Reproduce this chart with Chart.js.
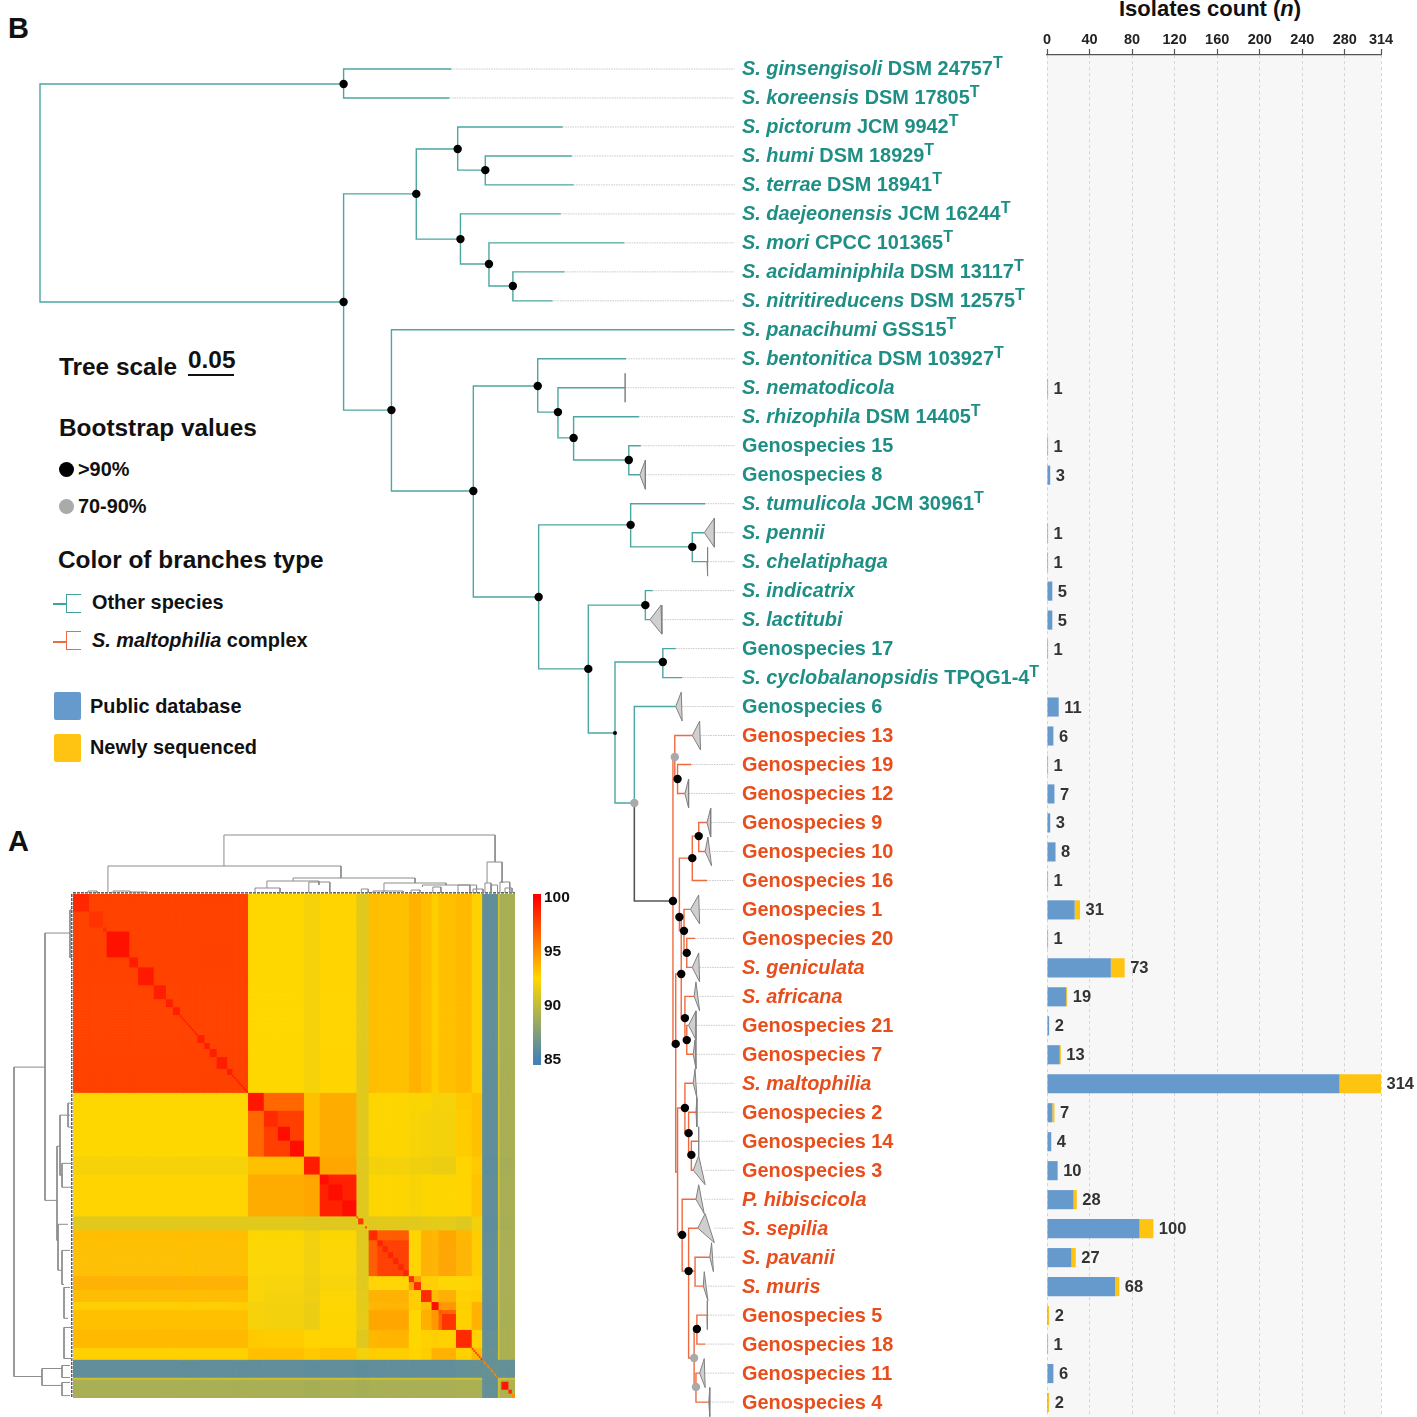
<!DOCTYPE html>
<html>
<head>
<meta charset="utf-8">
<title>Isolates tree and ANI heatmap</title>
<script src="https://cdn.jsdelivr.net/npm/chart.js@4"></script>
<style>
  html, body { margin: 0; padding: 0; background: #fff; }
  body { position: relative; width: 1417px; height: 1417px; overflow: hidden; font-family: "Liberation Sans", Arial, sans-serif; font-weight: bold; color: #111; }
  canvas { position: absolute; display: block; }
  .txt { position: absolute; white-space: nowrap; }
  .h1 { font-size: 24.4px; }
  .h2 { font-size: 19.9px; }
  .dot { position: absolute; width: 15px; height: 15px; border-radius: 50%; left: 59px; }
  .swatch { position: absolute; left: 54px; width: 27px; height: 28px; border-radius: 2px; }
  .stem { position: absolute; left: 53px; width: 13px; height: 1.5px; }
  .fork { position: absolute; left: 66px; width: 14px; height: 17px; border: 1.5px solid; border-right: 0; }
</style>
</head>
<body>

<div class="txt" style="left:8px;top:12px;font-size:29px">B</div>
<div class="txt" style="left:8px;top:825px;font-size:29px">A</div>
<div class="txt" style="left:1119px;top:-4px;font-size:22px">Isolates count (<i>n</i>)</div>

<div class="txt h1" style="left:59px;top:353px">Tree scale</div>
<div class="txt h1" style="left:188px;top:346px">0.05</div>
<div style="position:absolute;left:188px;top:374px;width:46px;height:1.5px;background:#111"></div>
<div class="txt h1" style="left:59px;top:414px">Bootstrap values</div>
<div class="dot" style="top:462px;background:#000"></div>
<div class="txt h2" style="left:78px;top:458px">&gt;90%</div>
<div class="dot" style="top:499px;background:#aaa"></div>
<div class="txt h2" style="left:78px;top:495px">70-90%</div>
<div class="txt h1" style="left:58px;top:546px">Color of branches type</div>
<div class="stem" style="top:603px;background:#3fa29c"></div>
<div class="fork" style="top:594px;border-color:#3fa29c"></div>
<div class="txt h2" style="left:92px;top:591px">Other species</div>
<div class="stem" style="top:641px;background:#ef6a3f"></div>
<div class="fork" style="top:631px;border-color:#ef6a3f"></div>
<div class="txt h2" style="left:92px;top:629px"><i>S. maltophilia</i> complex</div>
<div class="swatch" style="top:692px;background:#6699cc"></div>
<div class="txt h2" style="left:90px;top:695px">Public database</div>
<div class="swatch" style="top:734px;background:#ffc312"></div>
<div class="txt h2" style="left:90px;top:736px">Newly sequenced</div>

<canvas id="treeChart" width="1040" height="1362" style="left:0;top:55px"></canvas>
<canvas id="barChart" width="387" height="1417" style="left:1030px;top:0"></canvas>
<canvas id="heatChart" width="442" height="504" style="left:73px;top:894px"></canvas>
<canvas id="topDendro" width="442" height="64" style="left:73px;top:830px"></canvas>
<canvas id="leftDendro" width="61" height="504" style="left:12px;top:894px"></canvas>
<canvas id="colorBar" width="60" height="190" style="left:525px;top:885px"></canvas>

<script>
// --- DATA: species and isolate counts ---
// *..* = italic, ^ = superscript
const speciesLabels = [
  "*S. ginsengisoli* DSM 24757^T", "*S. koreensis* DSM 17805^T", "*S. pictorum* JCM 9942^T", "*S. humi* DSM 18929^T",
  "*S. terrae* DSM 18941^T", "*S. daejeonensis* JCM 16244^T", "*S. mori* CPCC 101365^T", "*S. acidaminiphila* DSM 13117^T",
  "*S. nitritireducens* DSM 12575^T", "*S. panacihumi* GSS15^T", "*S. bentonitica* DSM 103927^T", "*S. nematodicola*",
  "*S. rhizophila* DSM 14405^T", "Genospecies 15", "Genospecies 8", "*S. tumulicola* JCM 30961^T",
  "*S. pennii*", "*S. chelatiphaga*", "*S. indicatrix*", "*S. lactitubi*",
  "Genospecies 17", "*S. cyclobalanopsidis* TPQG1-4^T", "Genospecies 6", "Genospecies 13",
  "Genospecies 19", "Genospecies 12", "Genospecies 9", "Genospecies 10",
  "Genospecies 16", "Genospecies 1", "Genospecies 20", "*S. geniculata*",
  "*S. africana*", "Genospecies 21", "Genospecies 7", "*S. maltophilia*",
  "Genospecies 2", "Genospecies 14", "Genospecies 3", "*P. hibiscicola*",
  "*S. sepilia*", "*S. pavanii*", "*S. muris*", "Genospecies 5",
  "Genospecies 18", "Genospecies 11", "Genospecies 4"
];
const publicCounts = [0,0,0,0,0,0,0,0,0,0,0,1,0,1,3,0,1,1,5,5,1,0,11,6,1,7,3,8,1,26,1,60,18,2,12,275,5,4,10,25,87,23,64,1,1,6,1];
const newCounts    = [0,0,0,0,0,0,0,0,0,0,0,0,0,0,0,0,0,0,0,0,0,0,0,0,0,0,0,0,0,5,0,13,1,0,1,39,2,0,0,3,13,4,4,1,0,0,1];
const countTicks = [0,40,80,120,160,200,240,280,314];

// --- DATA: phylogeny (depth = substitutions/site from root, row = label row) ---
const tipDepth = [.447,.445,.568,.578,.580,.566,.635,.570,.557,.755,.637,.636,.651,.653,.652,.723,.722,.725,.666,.663,.691,.698,.691,.709,.708,.701,.725,.723,.725,.707,.712,.709,.711,.705,.710,.710,.713,.716,.710,.713,.715,.728,.721,.725,.723,.717,.727];
const tipParent = ["A","A","E","G","G","F","H","I","I","D","K","M","N","O","O","P","R2","R2","S","S","U","U","V","X","X2","X2","AD","AD","AA","AC","AE","AE","AY","AZ","AZ","AV","AW","AX","AX","AM","AN","AP","AP","AS","AS","AT","AT"];
const tipClade = ["t","t","t","t","t","t","t","t","t","t","t","t","t","t","t","t","t","t","t","t","t","t","t","o","o","o","o","o","o","o","o","o","o","o","o","o","o","o","o","o","o","o","o","o","o","o","o"];
// collapsed clade triangles: depth of upper and lower corner, null = single genome
const fanUpper = [null,null,null,null,null,null,null,null,null,null,null,.636,null,null,.658,null,.733,.726,null,.675,null,null,.697,.717,null,.705,.729,.726,null,.716,null,.716,.713,.713,.712,.712,.714,.716,.716,.716,.723,.730,.722,.725,null,.722,.728];
const fanLower = [null,null,null,null,null,null,null,null,null,null,null,.636,null,null,.658,null,.733,.726,null,.676,null,null,.698,.718,null,.705,.729,.730,null,.717,null,.717,.717,.713,.713,.714,.714,.716,.723,.722,.733,.732,.726,.726,null,.723,.728];

const nodeIds     = ["Root","A","B","C","D","E","F","G","H","I","J","K","L","M","N","O","P","Q","R2","S","T","U","V","W","X","X2","Y","AF","AB","AA","AD","AC","AE","AY","AZ","BB","AV","AW","AX","AM","AN","AP","AQ","AS","AT"];
const nodeParent  = [null,"Root","Root","B","B","C","C","E","F","H","D","J","J","K","M","N","L","L","P","Q","Q","T","T","V","W","X","W","Y","AF","AB","AA","AB","AC","AF","AY","Y","BB","AV","AW","BB","AM","AN","AN","AQ","AQ"];
const nodeDepth   = [0,.330,.330,.409,.382,.454,.457,.484,.488,.514,.471,.541,.542,.563,.580,.640,.642,.596,.709,.658,.625,.677,.646,.688,.690,.693,.691,.697,.695,.709,.716,.700,.703,.701,.703,.693,.701,.705,.708,.698,.705,.712,.711,.714,.713];
const nodeRow     = [4.28,.518,8.04,4.31,11.77,2.76,5.87,3.49,6.73,7.49,14.56,10.94,18.22,11.84,12.73,13.49,15.73,20.70,16.49,18.50,22.91,20.46,25.33,28.71,23.74,24.50,33.64,31.23,29.26,27.23,26.47,29.74,30.50,32.75,33.51,38.06,35.85,36.72,37.47,40.23,41.48,41.48,44.48,43.48,45.48];
const nodeClade   = ["t","t","t","t","t","t","t","t","t","t","t","t","t","t","t","t","t","t","t","t","t","t","t","k","o","o","o","o","o","o","o","o","o","o","o","o","o","o","o","o","o","o","o","o","o"];
// bootstrap class: 0 none, 1 >90%, 2 70-90%, 3 >90% (tiny)
const nodeSupport = [0,1,1,1,1,1,1,1,1,1,1,1,1,1,1,1,1,1,1,1,3,1,2,1,2,1,1,1,1,1,1,1,1,1,1,0,1,1,1,1,1,0,2,1,2];

// --- DATA: ANI heatmap (%), groups in clustering order ---
const heatGroupAni = [
  [97.7],
  [92.5,96.5],
  [92.5,96.4,97.8],
  [92.1,93.3,93.3,99.0],
  [92.6,94.0,94.0,94.2,98.8],
  [91.3,91.3,91.3,91.2,91.2,91.3],
  [93.4,92.4,92.4,92.0,92.4,91.2,98.0],
  [93.3,92.4,92.4,92.0,92.4,91.3,96.8,97.8],
  [93.8,92.3,92.2,91.9,92.2,91.3,92.6,92.6,94.5],
  [93.4,92.3,92.1,91.9,92.4,91.4,93.8,93.8,92.8,98.5],
  [92.8,92.1,92.0,91.7,92.4,91.4,93.6,93.7,92.8,93.4,99.0],
  [93.3,92.1,92.0,91.7,92.4,91.5,94.2,94.2,92.5,93.9,94.7,96.5],
  [93.5,93.0,92.9,92.6,92.6,91.2,93.6,93.7,92.5,92.7,92.8,92.7,98.2],
  [92.7,93.3,93.3,93.0,93.2,92.0,92.9,92.8,92.6,92.8,93.8,93.8,92.7,93.5],
  [86.1,86.1,86.1,86.0,86.1,86.0,86.1,86.1,86.1,86.1,86.1,86.1,86.2,86.3,86.3],
  [90.6,90.6,90.6,90.5,90.6,90.4,90.6,90.6,90.6,90.6,90.6,90.6,90.6,90.6,86.3,91.0],
  [89.0,89.0,89.0,88.9,89.0,88.9,89.0,89.0,89.0,89.0,89.0,89.0,89.1,89.1,86.2,90.5,89.2]
];
const heatSubSizes = [
  [9,8,2,13,5,9,7,4,4,1,1,1,1,1,1,1,1,1,1,4,3,4,6,3,1,1,1,1,1,1,1,1,1],
  [9],[8,7,8],[9],[5,8,8],[1,3,1,1,1],[5],[3,3,3,3,3,3],[3,4],[6],[4],[2,8],[9],
  [1,1,1,1,1,1],[1,1,1,1,1,1,1,1,1],[1],[1,4,2,2]
];
const heatSubAni = [
  [98.6,98.2,98.5,99.4,99,99.1,99,99,99,99,99,99,99,99,99,99,99,99,99,99,99,99,99,99,99,99,99,99,99,99,99,99,99],
  [99.2],[98.5,99.5,99.5],[99],[99.5,99.5,99.5],[97,98,92,98,92],[98.5],[98.8,98.8,98.8,98.8,98.8,98.8],[98.5,98.5],[98.5],[99.5],[97,98.2],[98.5],
  [98,98,98,98,98,98],[96,95,96,95,96,95,96,95,96],[91],[90,99.2,98.5,95]
];

// --- DATA: dendrograms, merges as [posA, posB, baseA, baseB, top] ---
const topMerges = [
  [86.4,241.6,7,8,14.75],[20,153.4,.5,4,7],[237,245.6,2.75,2.75,8],[126,195.8,3.25,2.75,4],
  [111,140.8,1.5,2.25,3.25],[135,147,.25,.25,3],[104.2,118.5,.25,.25,1.5],[178,213.5,.5,2.25,2.75],
  [200,227.2,1.75,.5,2.25],[220.4,231,.25,.25,2.25],[165,169,.25,.25,1.25],[171.7,189,.25,.25,.75],
  [193.5,198.6,.25,.25,1],[206,210.6,.25,.25,1.75],[229,234.7,.25,.25,1.25],[235.8,239.3,.25,.25,2.75],
  [239.3,243,.25,.25,2.25],[244.4,250,.25,.25,3],[247.3,251.3,.25,.25,1.5],[8.6,13.7,.25,.25,.75],
  [22.9,32.6,.25,.25,.75],[32.6,42.4,.25,.25,.5]
];
const leftMerges = [
  [86.9,242.2,7,7.75,14.75],[19.6,153.8,.75,4,7],[126.6,173.9,3.25,3.75,4],[111,141.2,.75,2.75,3.25],
  [135.2,147.2,.25,.25,2.75],[165.8,188.9,1.25,2.75,3.75],[178.9,196,.75,2.25,2.75],[197.5,213,.75,1.25,2.25],
  [217.6,233.2,.25,.25,2.25],[238.2,246.7,2.75,2.75,7.75],[236.7,242.7,.75,.75,2.75],[245.2,251.8,.75,.75,2.75],
  [105,117,.25,.25,1.25],[8,32,.25,.25,.75]
];
const aniTicks = [85,90,95,100];

// --- STYLE ---
const FONT = '"Liberation Sans", Arial, sans-serif';
const TEAL = '#4aa7a1', ORANGE = '#ef6a3f', DARK = '#555555';
const LABEL_TEAL = '#1f8f86', LABEL_ORANGE = '#e84e1b';
const BLUE = '#6699cc', YELLOW = '#ffc312';
const LEADER_END = .755, LABEL_DEPTH = .763;
const BREAK = { x: NaN, y: NaN };

Chart.defaults.font.family = FONT;
Chart.defaults.animation = false;
Chart.defaults.events = [];
Chart.defaults.responsive = false;
Chart.defaults.devicePixelRatio = 1;
Chart.defaults.layout.autoPadding = false;
Chart.defaults.plugins.legend.display = false;
Chart.defaults.plugins.tooltip.enabled = false;

// --- 1. TREE ---
const nodeIndex = id => nodeIds.indexOf(id);
function elbow(parentId, depth, row) {
  const p = nodeIndex(parentId);
  return [{ x: nodeDepth[p], y: nodeRow[p] }, { x: nodeDepth[p], y: row }, { x: depth, y: row }, BREAK];
}
function branchesOf(clade) {
  let pts = [];
  nodeIds.forEach((id, i) => {
    if (nodeParent[i] && nodeClade[i] === clade) pts = pts.concat(elbow(nodeParent[i], nodeDepth[i], nodeRow[i]));
  });
  tipDepth.forEach((d, i) => {
    if (tipClade[i] === clade) pts = pts.concat(elbow(tipParent[i], d, i));
  });
  return pts;
}
const lineSet = (data, color, width) => ({
  data, showLine: true, borderColor: color, borderWidth: width, pointRadius: 0, tension: 0, clip: false, spanGaps: false
});

const leaderPts = [];
tipDepth.forEach((d, i) => {
  const start = fanUpper[i] === null ? d : Math.max(fanUpper[i], fanLower[i]);
  leaderPts.push({ x: start, y: i }, { x: LEADER_END, y: i }, BREAK);
});
const leaderSet = lineSet(leaderPts, '#c8c8c8', 1);
leaderSet.borderDash = [1.5, 1];

const fanSets = [];
tipDepth.forEach((d, i) => {
  if (fanUpper[i] === null) return;
  const s = lineSet([{ x: d, y: i }, { x: fanUpper[i], y: i - .5 }, { x: fanLower[i], y: i + .5 }, { x: d, y: i }], '#808080', 1);
  s.fill = 'shape';
  s.backgroundColor = '#cfcfcf';
  fanSets.push(s);
});

const supportDots = [];
nodeIds.forEach((id, i) => {
  if (nodeSupport[i]) supportDots.push({ x: nodeDepth[i], y: nodeRow[i], c: nodeSupport[i] });
});

function drawRich(ctx, text, x, y, size) {
  const runs = text.split('*').filter(s => s.length);
  let italicNext = text.startsWith('*');
  let cx = x;
  runs.forEach(run => {
    const parts = run.split('^');
    ctx.font = (italicNext ? 'italic ' : '') + 'bold ' + size + 'px ' + FONT;
    ctx.fillText(parts[0], cx, y);
    cx += ctx.measureText(parts[0]).width;
    if (parts[1]) {
      ctx.font = 'bold 16px ' + FONT;
      ctx.fillText(parts[1], cx, y - 6);
      cx += ctx.measureText(parts[1]).width;
    }
    italicNext = !italicNext;
  });
}
const speciesLabelPlugin = {
  id: 'speciesLabels',
  afterDatasetsDraw(chart) {
    const { ctx, scales: { x, y } } = chart;
    ctx.save();
    ctx.textBaseline = 'middle';
    ctx.textAlign = 'left';
    speciesLabels.forEach((lab, i) => {
      ctx.fillStyle = tipClade[i] === 't' ? LABEL_TEAL : LABEL_ORANGE;
      drawRich(ctx, lab, x.getPixelForValue(LABEL_DEPTH), y.getPixelForValue(i) + 1, 19.9);
    });
    ctx.restore();
  }
};

new Chart(document.getElementById('treeChart'), {
  type: 'scatter',
  data: {
    // first dataset is painted last
    datasets: [
      {
        data: supportDots, clip: false, showLine: false, borderWidth: 0,
        pointRadius: c => c.raw && c.raw.c === 3 ? 2 : 4.2,
        backgroundColor: c => c.raw && c.raw.c === 2 ? '#aaaaaa' : '#000000'
      },
      ...fanSets,
      lineSet(branchesOf('k'), DARK, 1.6),
      lineSet(branchesOf('o'), ORANGE, 1.4),
      lineSet(branchesOf('t'), TEAL, 1.4),
      leaderSet
    ]
  },
  options: {
    layout: { padding: 0 },
    scales: {
      x: { type: 'linear', min: -40 / 920, max: 1000 / 920, display: false },
      y: { type: 'linear', min: -14 / 28.98, max: 1348 / 28.98, reverse: true, display: false }
    }
  },
  plugins: [speciesLabelPlugin]
});

// --- 2. ISOLATE COUNT BARS ---
const panelPlugin = {
  id: 'panel',
  beforeDraw(chart) {
    const { ctx, chartArea: a } = chart;
    ctx.save();
    ctx.fillStyle = '#f7f7f7';
    ctx.fillRect(a.left, a.top, a.right - a.left, a.bottom - a.top);
    ctx.restore();
  }
};
const totalLabelPlugin = {
  id: 'totalLabels',
  afterDatasetsDraw(chart) {
    const { ctx, scales: { x, y } } = chart;
    ctx.save();
    ctx.font = 'bold 16.5px ' + FONT;
    ctx.fillStyle = '#333';
    ctx.textBaseline = 'middle';
    publicCounts.forEach((p, i) => {
      const total = p + newCounts[i];
      if (total > 0) ctx.fillText(String(total), x.getPixelForValue(total) + 5.5, y.getPixelForValue(i) + 1);
    });
    ctx.restore();
  }
};
new Chart(document.getElementById('barChart'), {
  type: 'bar',
  data: {
    labels: speciesLabels.map(s => s.replace(/[*]/g, '').replace('^', '')),
    datasets: [
      { label: 'Public database', data: publicCounts, backgroundColor: BLUE },
      { label: 'Newly sequenced', data: newCounts, backgroundColor: YELLOW }
    ]
  },
  options: {
    indexAxis: 'y',
    layout: { padding: { left: 17, right: 36, top: 0, bottom: 0 } },
    datasets: { bar: { categoryPercentage: .66, barPercentage: 1 } },
    scales: {
      x: {
        position: 'top', stacked: true, min: 0, max: 314,
        afterBuildTicks: s => { s.ticks = countTicks.map(v => ({ value: v })); },
        afterFit: s => { s.height = 55; },
        ticks: { autoSkip: false, maxRotation: 0, padding: 0, color: '#222', font: { size: 14.5, weight: 'bold' } },
        grid: { color: '#d4d4d4', tickColor: '#555', tickLength: 6, tickWidth: 1.2, tickBorderDash: [] },
        border: { color: '#555', width: 1.2, dash: [3, 3] }
      },
      y: { stacked: true, display: false }
    }
  },
  plugins: [panelPlugin, totalLabelPlugin]
});

// --- 3. ANI HEATMAP (stacked bars, one row per category) ---
function aniColor(v) {
  const mix = (a, b, t) => Math.round(a + (b - a) * t);
  if (v <= 92.5) {
    const t = Math.max(0, (v - 85) / 7.5);
    return `rgb(${mix(70, 255, t)},${mix(130, 215, t)},${mix(180, 0, t)})`;
  }
  const t = Math.min(1, (v - 92.5) / 7.5);
  return `rgb(255,${mix(215, 0, t)},0)`;
}
const heatSubs = [];
heatSubSizes.forEach((sizes, g) => sizes.forEach((size, k) => heatSubs.push({ g, size, self: heatSubAni[g][k] })));
const heatRows = [];
heatSubs.forEach((s, j) => { for (let r = 0; r < s.size; r++) heatRows.push(j); });
const cellAni = (a, b) => {
  if (a === b) return heatSubs[a].self;
  const ga = heatSubs[a].g, gb = heatSubs[b].g;
  return heatGroupAni[Math.max(ga, gb)][Math.min(ga, gb)];
};
new Chart(document.getElementById('heatChart'), {
  type: 'bar',
  data: {
    labels: heatRows.map((_, r) => r + 1),
    datasets: heatSubs.map((s, j) => ({
      data: heatRows.map(() => s.size),
      backgroundColor: heatRows.map(rj => aniColor(cellAni(rj, j))),
      borderWidth: 0
    }))
  },
  options: {
    indexAxis: 'y',
    layout: { padding: 0 },
    datasets: { bar: { categoryPercentage: 1, barPercentage: 1 } },
    scales: {
      x: { stacked: true, min: 0, max: heatRows.length, display: false },
      y: { stacked: true, display: false }
    }
  }
});

// --- 4. DENDROGRAMS ---
function mergeLines(merges, horizontal) {
  const pts = [];
  merges.forEach(([a, b, ba, bb, top]) => {
    [[a, ba], [a, top], [b, top], [b, bb]].forEach(([p, h]) => pts.push(horizontal ? { x: h, y: p } : { x: p, y: h }));
    pts.push(BREAK);
  });
  return pts;
}
new Chart(document.getElementById('topDendro'), {
  type: 'scatter',
  data: {
    datasets: [
      lineSet(mergeLines(topMerges, false), '#8c8c8c', 1),
      Object.assign(lineSet([{ x: 0, y: .3 }, { x: 253, y: .3 }], '#333', 1.2), { borderDash: [3, 1] })
    ]
  },
  options: {
    layout: { padding: 0 },
    scales: {
      x: { type: 'linear', min: 0, max: 253, display: false },
      y: { type: 'linear', min: 0, max: 16, display: false }
    }
  }
});
new Chart(document.getElementById('leftDendro'), {
  type: 'scatter',
  data: {
    datasets: [
      lineSet(mergeLines(leftMerges, true), '#8c8c8c', 1),
      Object.assign(lineSet([{ x: .3, y: 0 }, { x: .3, y: 253 }], '#333', 1.2), { borderDash: [3, 1] })
    ]
  },
  options: {
    layout: { padding: 0 },
    scales: {
      x: { type: 'linear', min: 0, max: 15.25, reverse: true, display: false },
      y: { type: 'linear', min: 0, max: 253, reverse: true, display: false }
    }
  }
});

// --- 5. COLOUR KEY ---
new Chart(document.getElementById('colorBar'), {
  type: 'bar',
  data: {
    labels: ['ANI'],
    datasets: [{
      data: [[84.5, 100.3]],
      backgroundColor: c => {
        const { ctx, chartArea: a, scales } = c.chart;
        if (!a) return BLUE;
        const y = scales.y;
        const g = ctx.createLinearGradient(0, y.getPixelForValue(85), 0, y.getPixelForValue(100));
        g.addColorStop(0, aniColor(85));
        g.addColorStop(.5, aniColor(92.5));
        g.addColorStop(1, aniColor(100));
        return g;
      },
      categoryPercentage: 1, barPercentage: 1, borderWidth: 0
    }]
  },
  options: {
    layout: { padding: { left: 8, top: 9, bottom: 10, right: 0 } },
    scales: {
      x: { display: false },
      y: {
        position: 'right', min: 84.5, max: 100.3,
        afterBuildTicks: s => { s.ticks = aniTicks.map(v => ({ value: v })); },
        afterFit: s => { s.width = 44; s.paddingTop = 0; s.paddingBottom = 0; },
        ticks: { padding: 3, color: '#111', font: { size: 15.5, weight: 'bold' } },
        grid: { display: false, drawTicks: false, tickLength: 0 },
        border: { display: false }
      }
    }
  }
});
</script>
</body>
</html>
